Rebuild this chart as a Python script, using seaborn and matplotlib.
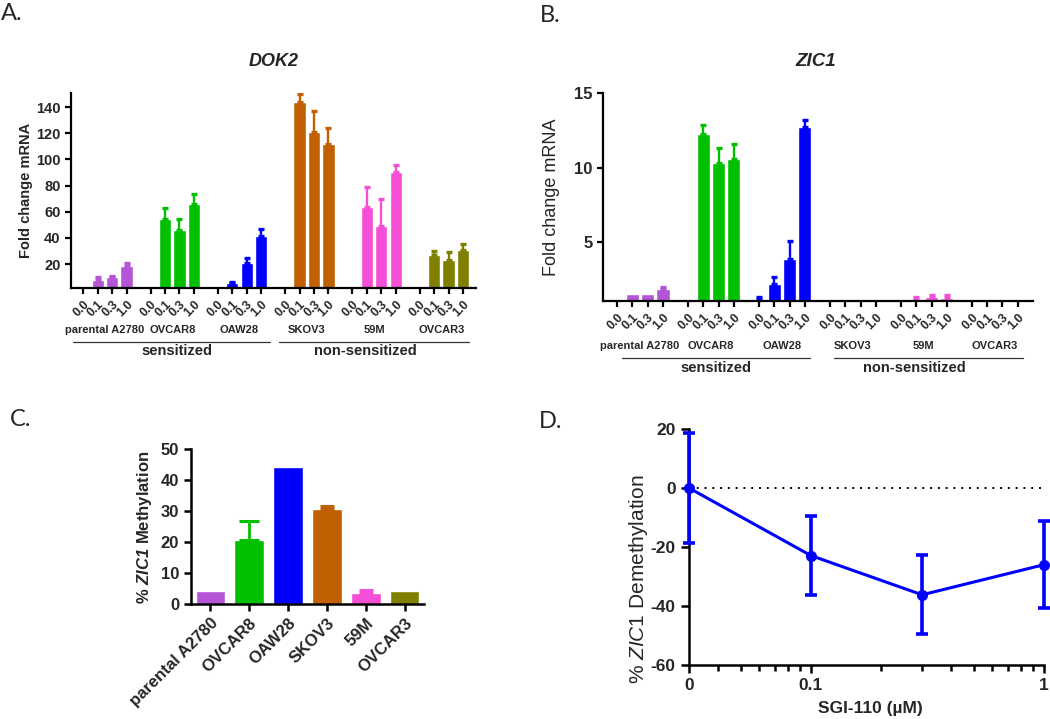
import numpy as np
import pandas as pd
import matplotlib
matplotlib.use("Agg")
import matplotlib.pyplot as plt
import seaborn as sns

# ---- data ----
lines = ["parental A2780", "OVCAR8", "OAW28", "SKOV3", "59M", "OVCAR3"]
doses = ["0.0", "0.1", "0.3", "1.0"]
colors = ["#B455D6", "#00C000", "#0000FF", "#C06000", "#F54FD8", "#808000"]

dok2_mean = [[2.4, 7.8, 10.4, 18.2],
             [2.2, 54.3, 46.1, 65.9],
             [1.0, 5.5, 20.5, 41.3],
             [1.0, 144.1, 121.0, 111.4],
             [3.4, 63.9, 48.9, 90.6],
             [2.2, 27.1, 23.0, 30.4]]
dok2_err = [[0, 2.3, 0.7, 2.6],
            [0, 8.3, 8.4, 7.4],
            [0, 1.0, 3.8, 5.3],
            [0, 5.9, 16.0, 12.7],
            [0, 15.0, 21.1, 5.0],
            [0, 2.5, 6.1, 4.6]]

zic1_mean = [[1.0, 1.55, 1.55, 1.86],
             [1.13, 12.24, 10.29, 10.58],
             [1.2, 2.2, 3.9, 12.71],
             [1.12, 1.0, 1.0, 1.0],
             [1.13, 1.2, 1.35, 1.28],
             [1.1, 1.0, 1.0, 1.0]]
zic1_err = [[0, 0, 0, 0.14],
            [0, 0.63, 1.05, 0.99],
            [0.1, 0.43, 1.19, 0.49],
            [0, 0, 0, 0],
            [0, 0.11, 0.12, 0.14],
            [0, 0, 0, 0]]

meth_mean = [4.1, 20.8, 44.1, 30.6, 3.6, 4.1]
meth_err = [0, 6.0, 0, 0.9, 0.8, 0]

sgi_dose = [0.03, 0.1, 0.3, 1.0]   # "0" is drawn at 0.03 on the log axis
sgi_labels = ["0", "0.1", "1"]
demeth_mean = [0, -22.9, -36.2, -26.0]
demeth_err = [18.7, 13.4, 13.4, 14.7]

GAP = 4.65  # group period in bar units
BAR_W = 0.86
W, H = 1050, 719

sns.set_style("ticks")
plt.rcParams["font.family"] = ["Liberation Sans", "DejaVu Sans"]
plt.rcParams["axes.unicode_minus"] = False
plt.rcParams["mathtext.fontset"] = "custom"
plt.rcParams["mathtext.rm"] = "Liberation Sans"
plt.rcParams["mathtext.it"] = "Liberation Sans:italic"
plt.rcParams["mathtext.bf"] = "Liberation Sans:bold"
plt.rcParams["mathtext.bfit"] = "Liberation Sans:bold:italic"
pal = dict(zip(lines, colors))


def frect(l, t, r, b):
    return [l / W, 1 - b / H, (r - l) / W, (b - t) / H]


def ftext(fig, x, y, s, **kw):
    fig.text(x / W, 1 - y / H, s, ha="center", va="center", **kw)


def style_axes(ax, lw=1.6):
    sns.despine(ax=ax)
    for sp in ["left", "bottom"]:
        ax.spines[sp].set_linewidth(lw)
        ax.spines[sp].set_color("black")
    ax.tick_params(width=lw, length=4, color="black")


def tidy(mean, err):
    rows = []
    for g, line in enumerate(lines):
        for d, dose in enumerate(doses):
            rows.append({"line": line, "dose": dose, "pos": g * GAP + d,
                         "value": mean[g][d], "err": err[g][d]})
    return pd.DataFrame(rows)


def grouped_panel(ax, df, ylim, yticks, tick_fs, seps, label_y, sep_y, word_y):
    sns.barplot(data=df, x="pos", y="value", hue="line", palette=pal,
                native_scale=True, dodge=False, width=BAR_W, saturation=1,
                errorbar=None, legend=False, ax=ax)
    # keep every bar at the same width around its own position
    for p in ax.patches:
        c = p.get_x() + p.get_width() / 2
        p.set_width(BAR_W)
        p.set_x(c - BAR_W / 2)
    for line in lines:
        sub = df[(df["line"] == line) & (df["err"] > 0)]
        ax.errorbar(sub["pos"], sub["value"], yerr=[np.zeros(len(sub)), sub["err"]],
                    fmt="none", ecolor=pal[line], elinewidth=1.7, capsize=2.4,
                    capthick=2.4, zorder=1)
    ax.set_ylim(*ylim)
    ax.set_yticks(yticks)
    ax.set_xticks(df["pos"])
    ax.set_xticklabels(df["dose"], rotation=45, ha="right", va="top",
                       rotation_mode="anchor", fontsize=8.8, fontweight="bold")
    for lab in ax.get_yticklabels():
        lab.set_fontweight("bold")
        lab.set_fontsize(tick_fs)
    ax.set_xlabel("")
    ax.set_ylabel("")
    style_axes(ax)
    tr = ax.get_xaxis_transform()
    for g, line in enumerate(lines):
        ax.text(g * GAP + 1.5, label_y, line, transform=tr, ha="center",
                va="center", fontsize=8, fontweight="bold")
    for (x0, x1), word, xc in zip(seps, ["sensitized", "non-sensitized"], [6.5, 19.5]):
        ax.plot([x0, x1], [sep_y, sep_y], transform=tr, color="#333333", lw=0.9,
                clip_on=False)
        ax.text(xc, word_y, word, transform=tr, ha="center", va="center",
                fontsize=10.5, fontweight="bold")


fig = plt.figure(figsize=(W / 100, H / 100), dpi=100)

# ---- A: DOK2 ----
axA = fig.add_axes(frect(71, 93, 476, 288))
grouped_panel(axA, tidy(dok2_mean, dok2_err), (1.7, 150.7), range(20, 141, 20), 10.5,
              [(-0.7, 12.9), (13.5, 26.7)], -0.215, -0.278, -0.323)
axA.set_xlim(-0.85, 5 * GAP + 3 + 0.9)
ftext(fig, 274, 62, "DOK2", fontsize=13, fontweight="bold", fontstyle="italic")
ftext(fig, 26, 190, "Fold change mRNA", rotation=90, fontsize=10.5, fontweight="bold")

# ---- B: ZIC1 ----
axB = fig.add_axes(frect(603, 93, 1033, 301))
grouped_panel(axB, tidy(zic1_mean, zic1_err), (1.05, 15), [5, 10, 15], 12,
              [(0.33, 12.65), (14.2, 26.57)], -0.214, -0.273, -0.32)
axB.set_xlim(-0.93, 5 * GAP + 3 + 1.0)
ftext(fig, 816, 62, "ZIC1", fontsize=13.5, fontweight="bold", fontstyle="italic")
ftext(fig, 552, 197, "Fold change mRNA", rotation=90, fontsize=13)

# ---- C: methylation ----
axC = fig.add_axes(frect(191, 449, 424, 604))
dfC = pd.DataFrame({"line": lines, "value": meth_mean, "err": meth_err})
sns.barplot(data=dfC, x="line", y="value", hue="line", palette=pal, width=0.76,
            saturation=1, errorbar=None, legend=False, ax=axC)
for i, row in dfC.iterrows():
    if row["err"] > 0:
        axC.errorbar(i, row["value"], yerr=[[0], [row["err"]]], fmt="none",
                     ecolor=pal[row["line"]], elinewidth=2, capsize=7 if row["err"] > 2 else 5,
                     capthick=2.2, zorder=1)
axC.set_ylim(0, 50)
axC.set_xlim(-0.5, 5.5)
axC.set_yticks(range(0, 51, 10))
axC.set_xticks(range(len(lines)))
axC.set_xticklabels(lines, rotation=45, ha="right", va="top", rotation_mode="anchor",
                    fontsize=12, fontweight="bold")
for lab in axC.get_yticklabels():
    lab.set_fontweight("bold")
    lab.set_fontsize(12)
axC.set_xlabel("")
axC.set_ylabel("")
style_axes(axC, 1.8)
axC.tick_params(length=5)
ftext(fig, 145, 527, r"% $\mathbfit{ZIC1}$ Methylation", rotation=90, fontsize=12,
      fontweight="bold")

# ---- D: demethylation ----
axD = fig.add_axes(frect(689, 429, 1044, 665))
axD.plot([sgi_dose[0], sgi_dose[-1]], [0, 0], color="black", lw=1.4,
         linestyle=(0, (1, 3)), zorder=1)
sns.lineplot(x=sgi_dose, y=demeth_mean, color="#0000FF", lw=2.2, marker="o",
             markersize=8, markeredgewidth=0, ax=axD, zorder=3)
axD.errorbar(sgi_dose, demeth_mean, yerr=demeth_err, fmt="none", ecolor="#0000FF",
             elinewidth=2.6, capsize=4, capthick=2.6, zorder=3, clip_on=False)
axD.set_xscale("log")
axD.set_xlim(sgi_dose[0], sgi_dose[-1])
axD.set_ylim(-60, 20)
axD.set_yticks([20, 0, -20, -40, -60])
axD.set_xticks([0.03, 0.1, 1.0])
axD.set_xticklabels(sgi_labels)
axD.set_xticks([0.04, 0.05, 0.06, 0.07, 0.08, 0.09] +
               [0.2, 0.3, 0.4, 0.5, 0.6, 0.7, 0.8, 0.9], minor=True)
axD.xaxis.set_minor_formatter(matplotlib.ticker.NullFormatter())
for lab in axD.get_xticklabels() + axD.get_yticklabels():
    lab.set_fontweight("bold")
    lab.set_fontsize(12.5)
style_axes(axD, 1.8)
axD.tick_params(which="major", length=6)
axD.tick_params(which="minor", length=4, width=1.8, color="black")
for line in axD.lines:
    line.set_clip_on(False)
ftext(fig, 638, 579, r"% $\mathit{ZIC1}$ Demethylation", rotation=90, fontsize=15)
ftext(fig, 870, 708, "SGI-110 (\u00b5M)", fontsize=12.5, fontweight="bold")

# ---- panel letters ----
for x, y, s in [(12, 14, "A."), (550, 16, "B."), (21, 420, "C."), (551, 421, "D.")]:
    ftext(fig, x, y, s, fontsize=17, family=["Lato", "DejaVu Sans"])

fig.savefig("out.png", dpi=100)
